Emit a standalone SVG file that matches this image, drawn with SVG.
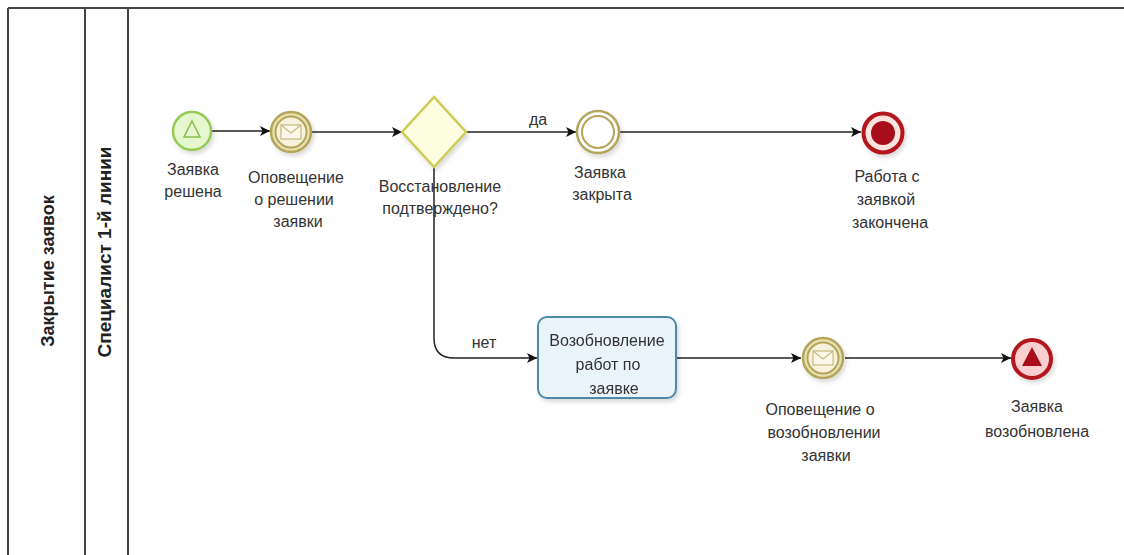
<svg xmlns="http://www.w3.org/2000/svg" width="1124" height="555" viewBox="0 0 1124 555">
<defs>
<style>
text{font-family:"Liberation Sans",Arial,sans-serif;font-size:16px;fill:#333;text-anchor:middle}
.lane{font-weight:bold;font-size:18px;fill:#222}
.frame{stroke:#444;stroke-width:2;fill:none}
.conn{stroke:#222;stroke-width:1.5;fill:none}
.ie-o{fill:#e8e0b0;stroke:#b3a65a;stroke-width:2.5}
.ie-i{fill:#f6f2dc;stroke:#b3a65a;stroke-width:2}
.env{fill:#fbf8ea;stroke:#c9bd86;stroke-width:1.3}
</style>
<marker id="arr" viewBox="0 0 10 10" refX="10" refY="5" markerWidth="10" markerHeight="10" markerUnits="userSpaceOnUse" orient="auto">
<path d="M0,0 L10,5 L0,10 L2.5,5 z" fill="#111"/>
</marker>
<filter id="sh" x="-30%" y="-30%" width="160%" height="160%">
<feDropShadow dx="2" dy="3" stdDeviation="2" flood-color="#000" flood-opacity="0.15"/>
</filter>
</defs>
<rect width="1124" height="555" fill="#fff"/>
<g id="pool">
<line class="frame" x1="8" y1="8" x2="1124" y2="8"/>
<line class="frame" x1="8" y1="8" x2="8" y2="555"/>
<line class="frame" x1="85" y1="8" x2="85" y2="555"/>
<line class="frame" x1="128" y1="8" x2="128" y2="555"/>
<text class="lane" transform="translate(53.5,271) rotate(-90)">Закрытие заявок</text>
<text class="lane" transform="translate(111,252) rotate(-90)" style="font-size:19px">Специалист 1-й линии</text>
</g>
<g id="connectors">
<line class="conn" x1="212" y1="131" x2="270" y2="131" marker-end="url(#arr)"/>
<line class="conn" x1="312" y1="132" x2="402" y2="132" marker-end="url(#arr)"/>
<line class="conn" x1="465" y1="132" x2="576" y2="132" marker-end="url(#arr)"/>
<line class="conn" x1="620" y1="132" x2="861" y2="132" marker-end="url(#arr)"/>
<path class="conn" d="M434,167 L434,338 Q434,358 454,358 L537,358" marker-end="url(#arr)"/>
<line class="conn" x1="676" y1="358" x2="801" y2="358" marker-end="url(#arr)"/>
<line class="conn" x1="845" y1="358" x2="1011" y2="358" marker-end="url(#arr)"/>
<text x="538" y="125">да</text>
<text x="484" y="348">нет</text>
</g>
<g id="start" filter="url(#sh)">
<circle cx="192" cy="131" r="19" fill="#e6f6cf" stroke="#95cb55" stroke-width="2.5"/>
<path d="M192,121 L200,137 L184,137 z" fill="none" stroke="#86bd4a" stroke-width="1.5"/>
</g>
<g id="start-label"><text x="193" y="175">Заявка</text><text x="193" y="197">решена</text></g>
<g id="msg1" filter="url(#sh)">
<circle class="ie-o" cx="291" cy="132" r="20"/>
<circle class="ie-i" cx="291" cy="132" r="15.5"/>
<rect class="env" x="281" y="125" width="20" height="14"/>
<path d="M281,125 L291,133 L301,125" fill="none" stroke="#c9bd86" stroke-width="1.3"/>
</g>
<g id="msg1-label"><text x="296" y="183">Оповещение</text><text x="294" y="205">о решении</text><text x="298" y="227">заявки</text></g>
<g id="gateway" filter="url(#sh)">
<path d="M434,97 L466,132 L434,167 L402,132 z" fill="#fdfddf" stroke="#cccc55" stroke-width="2.5"/>
</g>
<g id="gateway-label"><text x="440" y="192">Восстановление</text><text x="440" y="214">подтверждено?</text></g>
<g id="closed" filter="url(#sh)">
<circle cx="598" cy="132" r="21" fill="#fff" stroke="#b3a65a" stroke-width="2.5"/>
<circle cx="598" cy="132" r="16" fill="#fff" stroke="#b3a65a" stroke-width="2"/>
</g>
<g id="closed-label"><text x="600" y="178">Заявка</text><text x="602" y="200">закрыта</text></g>
<g id="end1" filter="url(#sh)">
<circle cx="883" cy="133" r="19.5" fill="#fbe3de" stroke="#b3121c" stroke-width="4"/>
<circle cx="883" cy="133" r="12" fill="#a8101a"/>
</g>
<g id="end1-label"><text x="887" y="182">Работа с</text><text x="886" y="205">заявкой</text><text x="890" y="228">закончена</text></g>
<g id="task" filter="url(#sh)">
<rect x="538" y="317" width="138" height="81" rx="9" fill="#eaf4fb" stroke="#4d8aa8" stroke-width="2"/>
<text x="607" y="346">Возобновление</text><text x="608" y="370">работ по</text><text x="614" y="394">заявке</text>
</g>
<g id="msg2" filter="url(#sh)">
<circle class="ie-o" cx="823" cy="358" r="20"/>
<circle class="ie-i" cx="823" cy="358" r="15.5"/>
<rect class="env" x="813" y="351" width="20" height="14"/>
<path d="M813,351 L823,359 L833,351" fill="none" stroke="#c9bd86" stroke-width="1.3"/>
</g>
<g id="msg2-label"><text x="820" y="415">Оповещение о</text><text x="824" y="438">возобновлении</text><text x="826" y="461">заявки</text></g>
<g id="end2" filter="url(#sh)">
<circle cx="1032" cy="359" r="19" fill="#f9cfcf" stroke="#b3121c" stroke-width="4"/>
<path d="M1032,347 L1042,366 L1022,366 z" fill="#a8101a"/>
</g>
<g id="end2-label"><text x="1037" y="412">Заявка</text><text x="1037" y="437">возобновлена</text></g>
</svg>
